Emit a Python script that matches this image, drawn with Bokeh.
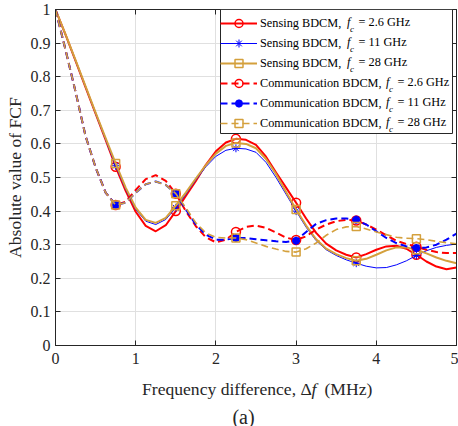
from bokeh.plotting import figure
from bokeh.layouts import column
from bokeh.models import (Range1d, LinearAxis, Legend, LegendItem, Label,
                          BoxAnnotation, FixedTicker, CustomJSTickFormatter)
from bokeh.core.properties import value
from bokeh.embed import file_html
from bokeh.resources import INLINE

# ---------------- data ----------------
freq_mhz = [0.0, 0.125, 0.25, 0.375, 0.5, 0.625, 0.75, 0.875, 1.0, 1.125,
            1.25, 1.375, 1.5, 1.625, 1.75, 1.875, 2.0, 2.125, 2.25, 2.375,
            2.5, 2.625, 2.75, 2.875, 3.0, 3.125, 3.25, 3.375, 3.5, 3.625,
            3.75, 3.875, 4.0, 4.125, 4.25, 4.375, 4.5, 4.625, 4.75, 4.875,
            5.0]

sensing_2_6 = [1.0, 0.925, 0.847, 0.768, 0.69, 0.612, 0.532, 0.46, 0.398,
               0.356, 0.34, 0.358, 0.40, 0.445, 0.49, 0.538, 0.578, 0.604,
               0.615, 0.612, 0.597, 0.562, 0.515, 0.47, 0.425, 0.378, 0.335,
               0.303, 0.283, 0.27, 0.262, 0.272, 0.285, 0.295, 0.297, 0.288,
               0.27, 0.25, 0.235, 0.227, 0.232]
sensing_11 = [1.0, 0.925, 0.847, 0.769, 0.69, 0.613, 0.535, 0.465, 0.405,
              0.37, 0.36, 0.375, 0.41, 0.45, 0.493, 0.532, 0.563, 0.581,
              0.587, 0.585, 0.575, 0.545, 0.50, 0.45, 0.40, 0.352, 0.312,
              0.285, 0.268, 0.255, 0.245, 0.236, 0.231, 0.232, 0.24, 0.252,
              0.268, 0.282, 0.292, 0.298, 0.302]
sensing_28 = [1.0, 0.926, 0.849, 0.771, 0.693, 0.617, 0.542, 0.47, 0.41,
              0.374, 0.365, 0.38, 0.416, 0.455, 0.497, 0.537, 0.571, 0.594,
              0.603, 0.60, 0.587, 0.555, 0.51, 0.457, 0.405, 0.357, 0.316,
              0.288, 0.272, 0.26, 0.252, 0.258, 0.27, 0.283, 0.292, 0.292,
              0.285, 0.274, 0.262, 0.252, 0.245]
comm_2_6 = [1.0, 0.88, 0.755, 0.623, 0.53, 0.455, 0.418, 0.428, 0.463,
            0.495, 0.507, 0.49, 0.452, 0.40, 0.355, 0.322, 0.307, 0.315,
            0.338, 0.353, 0.357, 0.35, 0.336, 0.321, 0.314, 0.325, 0.345,
            0.36, 0.37, 0.374, 0.372, 0.36, 0.345, 0.328, 0.312, 0.302,
            0.294, 0.285, 0.278, 0.275, 0.275]
comm_11 = [1.0, 0.88, 0.755, 0.623, 0.53, 0.455, 0.418, 0.425, 0.455, 0.48,
           0.488, 0.478, 0.452, 0.405, 0.36, 0.33, 0.315, 0.315, 0.32, 0.32,
           0.316, 0.313, 0.31, 0.308, 0.312, 0.338, 0.362, 0.373, 0.378,
           0.378, 0.374, 0.36, 0.34, 0.32, 0.305, 0.295, 0.29, 0.292, 0.30,
           0.315, 0.333]
comm_28 = [1.0, 0.88, 0.755, 0.623, 0.53, 0.455, 0.418, 0.425, 0.455, 0.48,
           0.488, 0.478, 0.452, 0.41, 0.365, 0.335, 0.322, 0.32, 0.32, 0.315,
           0.305, 0.295, 0.287, 0.28, 0.278, 0.288, 0.305, 0.328, 0.345,
           0.353, 0.354, 0.347, 0.338, 0.33, 0.322, 0.319, 0.318, 0.315,
           0.31, 0.306, 0.303]

x_ticks = [0, 1, 2, 3, 4, 5]
y_ticks = [0, 0.1, 0.2, 0.3, 0.4, 0.5, 0.6, 0.7, 0.8, 0.9, 1.0]
carrier_labels = ["2.6 GHz", "11 GHz", "28 GHz"]

# ---------------- styling ----------------
FONT = "Liberation Serif"
TXT = "#262626"
RED, BLUE, GOLD = "#FF0000", "#0000FF", "#D4A03C"
MARKER_STEP = 6  # one marker every 0.75 MHz

BL, BR, BT, BB = 55, 2, 9, 27
FRAME_W, FRAME_H = 401, 336
W = BL + FRAME_W + BR
H_MAIN = BT + FRAME_H + BB
H_CAP = 54

p = figure(width=W, height=H_MAIN,
           x_range=Range1d(0, 5), y_range=Range1d(0, 1),
           output_backend="svg", toolbar_location=None,
           min_border_left=BL, min_border_right=BR,
           min_border_top=BT, min_border_bottom=BB)
p.background_fill_color = "white"
p.border_fill_color = "white"
p.outline_line_color = TXT
p.outline_line_width = 1

for ax in (p.xaxis[0], p.yaxis[0]):
    ax.major_tick_in = 5
    ax.major_tick_out = 0
    ax.minor_tick_in = 0
    ax.minor_tick_out = 0
    ax.axis_line_color = TXT
    ax.major_tick_line_color = TXT
    ax.major_label_text_font = FONT
    ax.major_label_text_font_size = "16px"
    ax.major_label_text_color = TXT

p.xaxis.ticker = FixedTicker(ticks=x_ticks)
p.yaxis.ticker = FixedTicker(ticks=y_ticks)
fmt = CustomJSTickFormatter(code="return String(Math.round(tick*10)/10);")
p.xaxis.formatter = fmt
p.yaxis.formatter = fmt
p.xaxis.major_label_standoff = 7
p.yaxis.major_label_standoff = 5

p.yaxis.axis_label = "Absolute value of FCF"
p.yaxis.axis_label_text_font = FONT
p.yaxis.axis_label_text_font_size = "17.6px"
p.yaxis.axis_label_text_font_style = "normal"
p.yaxis.axis_label_text_color = TXT
p.yaxis.axis_label_standoff = 3

# box axes (right / top), ticks only
empty = CustomJSTickFormatter(code="return '';")
for side, tk in (("right", y_ticks), ("above", x_ticks)):
    a = LinearAxis(ticker=FixedTicker(ticks=tk), formatter=empty,
                   major_tick_in=5, major_tick_out=0, minor_tick_in=0,
                   minor_tick_out=0, major_label_standoff=0,
                   major_label_text_font_size="0px",
                   axis_line_color=TXT, major_tick_line_color=TXT)
    p.add_layout(a, side)

p.xgrid.ticker = FixedTicker(ticks=x_ticks)
p.ygrid.ticker = FixedTicker(ticks=y_ticks)
p.grid.grid_line_color = "#E0E0E0"
p.grid.grid_line_width = 1

series = [
    ("Sensing BDCM,", sensing_2_6, RED, "solid", 2.0, "circle", 9, 1.5),
    ("Sensing BDCM,", sensing_11, BLUE, "solid", 1.0, "asterisk", 8, 1.0),
    ("Sensing BDCM,", sensing_28, GOLD, "solid", 2.0, "square", 8, 1.5),
    ("Communication BDCM,", comm_2_6, RED, "7 4", 2.0, "circle", 9, 1.5),
    ("Communication BDCM,", comm_11, BLUE, "7 4", 2.0, "asterisk", 8, 2.5),
    ("Communication BDCM,", comm_28, GOLD, "7 4", 1.6, "square", 8, 1.5),
]

items = []
for name, vals, col, dash, lw, mk, ms, mlw in series:
    ln = p.line(freq_mhz, vals, line_color=col, line_width=lw,
                line_dash=dash, line_join="round")
    sc = p.scatter(freq_mhz[MARKER_STEP:-1:MARKER_STEP],
                   vals[MARKER_STEP:-1:MARKER_STEP], marker=mk, size=ms,
                   line_color=col, line_width=mlw, fill_color=None)
    items.append(LegendItem(label=name, renderers=[ln, sc]))

# ---------------- legend ----------------
PAD, ROW, GW, STAND, LBLW = 2, 20, 37, 3, 188
leg_h = 2 * PAD + ROW * len(series)
leg_w = 2 * PAD + GW + STAND + LBLW
LOC_X, LOC_Y = 165, FRAME_H - leg_h

# white box behind the legend (legend itself is transparent so that the
# extra label pieces drawn below it stay visible)
p.add_layout(BoxAnnotation(left=LOC_X, right=LOC_X + leg_w,
                           bottom=LOC_Y, top=LOC_Y + leg_h,
                           left_units="screen", right_units="screen",
                           bottom_units="screen", top_units="screen",
                           fill_color="white", fill_alpha=1,
                           line_color=TXT, line_width=1, line_alpha=1,
                           level="annotation"))

legend = Legend(items=items, location=(LOC_X, LOC_Y), padding=PAD, spacing=0,
                glyph_width=GW, glyph_height=ROW, label_height=ROW,
                label_standoff=STAND, label_width=LBLW, margin=0,
                border_line_color=None, background_fill_alpha=0,
                label_text_font=FONT, label_text_font_size="12.3px",
                label_text_color="black")
p.add_layout(legend)

text_x0 = LOC_X + PAD + GW + STAND
for i, (name, *_r) in enumerate(series):
    cy = LOC_Y + leg_h - PAD - ROW * (i + 0.5)
    sens = name.startswith("Sensing")
    f_off = 84.5 if sens else 123.5
    rest_off = 96 if sens else 135
    rest = "= " + carrier_labels[i % 3]
    common = dict(x_units="screen", y_units="screen", text_font=FONT,
                  text_baseline="middle", text_color="black", level="overlay")
    p.add_layout(Label(x=text_x0 + f_off, y=cy, text="f",
                       text_font_style="italic", text_font_size="12.3px",
                       **common))
    p.add_layout(Label(x=text_x0 + f_off + 3, y=cy - 7, text="c",
                       text_font_style="italic", text_font_size="9px",
                       **common))
    p.add_layout(Label(x=text_x0 + rest_off, y=cy, text=rest,
                       text_font_size="12.3px", **common))

# ---------------- x axis title (with italic f) and caption ----------------
cap = figure(width=W, height=H_CAP, x_range=Range1d(0, FRAME_W),
             y_range=Range1d(0, H_CAP), output_backend="svg",
             toolbar_location=None, x_axis_type=None, y_axis_type=None,
             min_border_left=BL, min_border_right=BR,
             min_border_top=0, min_border_bottom=0)
cap.grid.visible = False
cap.outline_line_color = None
cap.background_fill_color = "white"
cap.border_fill_color = "white"

XL_BASE, XL_X0 = 37.5, 86.5
tkw = dict(text_font=value(FONT), text_color=TXT, text_baseline="alphabetic")
cap.text(x=[XL_X0], y=[XL_BASE], text=["Frequency difference, \u0394"],
         text_font_size="17.6px", text_align="left", **tkw)
cap.text(x=[XL_X0 + 169.5], y=[XL_BASE], text=["f"], text_font_style="italic",
         text_font_size="17.6px", text_align="left", **tkw)
cap.text(x=[XL_X0 + 182.5], y=[XL_BASE], text=["(MHz)"],
         text_font_size="17.6px", text_align="left", **tkw)
cap.text(x=[188], y=[10], text=["(a)"], text_font_size="20px",
         text_align="center", **tkw)

layout = column(p, cap, spacing=0)
open("out.html", "w").write(file_html(layout, INLINE))
